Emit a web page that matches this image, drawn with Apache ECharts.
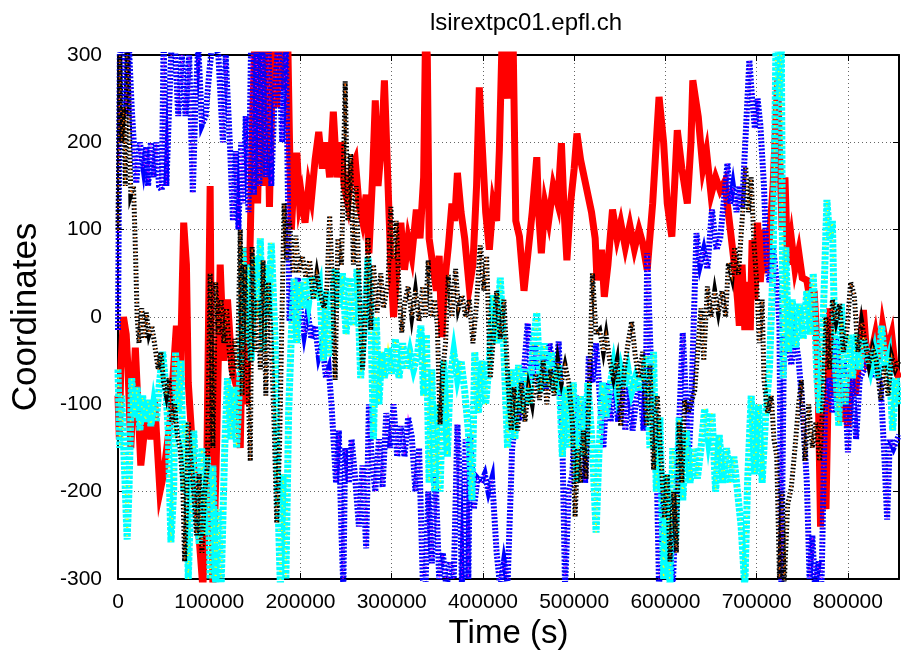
<!DOCTYPE html>
<html>
<head>
<meta charset="utf-8">
<title>lsirextpc01.epfl.ch</title>
<script src="https://cdn.jsdelivr.net/npm/echarts@6/dist/echarts.min.js"></script>
<style>
  html, body { margin: 0; padding: 0; background: #fff; }
  #chart { width: 901px; height: 657px; }
</style>
</head>
<body>
<div id="chart"></div>
<script>
// Coordinate traces over time; each pair is [time in kiloseconds, coordinate].
const redTrace = [[0,-90],[1.5,-140],[3,-60],[6,0],[9,-20],[11,-60],[14,-150],[19,-35],[25,-170],[29,-130],[33,-120],[36,-140],[40,-95],[46,-200],[50,-180],[57,-120],[64,-10],[68,-75],[72,108],[75,60],[77,-75],[81,-140],[85,-200],[88,-240],[93,-310],[97,-200],[101,150],[104,-310],[108,-150],[112,60],[116,-50],[120,20],[125,-60],[130,-80],[134,-150],[138,80],[141,-100],[144,40],[147,200],[150,320],[153,130],[157,320],[160,150],[163,320],[166,126],[170,320],[174,240],[178,330],[182,260],[186,320],[188,200],[190,100],[193,160],[196,188],[199,130],[201,140],[205,108],[209,150],[212,135],[216,180],[220,212],[224,170],[228,200],[232,160],[236,235],[240,160],[244,200],[248,150],[252,130],[256,170],[260,180],[264,130],[268,110],[272,140],[275,73],[279,160],[282,248],[285,150],[289,200],[292,271],[295,180],[299,60],[302,0],[306,60],[310,108],[314,54],[318,90],[322,70],[327,123],[331,90],[335,160],[337,320],[339,300],[341,90],[345,60],[349,30],[352,70],[355,-23],[358,40],[362,80],[366,130],[369,110],[372,165],[376,120],[380,90],[385,34],[389,60],[393,150],[396,263],[399,200],[403,120],[407,77],[411,130],[415,110],[418,191],[421,320],[425,250],[428,320],[431,250],[433,320],[436,110],[440,92],[445,30],[449,70],[454,120],[459,183],[461,120],[464,73],[468,130],[472,110],[477,150],[482,130],[486,199],[489,120],[492,65],[496,130],[500,170],[503,210],[507,180],[513,150],[519,120],[523,90],[525,42],[530,77],[533,23],[537,60],[542,123],[547,90],[551,108],[556,80],[561,105],[566,78],[571,100],[575,85],[580,54],[586,130],[590,200],[593,252],[598,200],[602,130],[607,92],[610,150],[613,214],[618,170],[624,130],[628,200],[630,271],[633,250],[636,229],[641,170],[645,190],[650,140],[655,160],[660,145],[665,155],[670,110],[675,65],[679,20],[681,-10],[684,60],[687,-15],[690,40],[693,-15],[695,88],[698,20],[701,108],[704,40],[708,100],[711,50],[714,90],[718,150],[720,200],[723,271],[725,190],[728,100],[731,160],[734,60],[738,90],[742,55],[746,75],[750,45],[755,42],[760,10],[763,30],[767,-50],[770,-240],[773,-100],[776,-220],[780,10],[784,-90],[788,-30],[792,-120],[796,-80],[800,-126],[804,-60],[808,-90],[813,-40],[817,8],[821,-50],[826,-40],[830,-20],[834,-50],[838,-10],[843,-40],[848,-20],[852,-60],[856,-70]];

const blueTrace = [[0,-15],[2,300],[5,320],[9,230],[12,310],[15,240],[20,153],[24,200],[28,170],[31,195],[33,150],[36,200],[39,160],[42,200],[45,150],[48,145],[50,320],[53,150],[56,240],[59,320],[62,320],[66,230],[70,300],[74,230],[78,300],[82,142],[85,250],[88,310],[92,220],[96,230],[100,280],[104,320],[110,300],[115,200],[118,300],[123,190],[126,110],[129,190],[132,100],[135,200],[137,130],[140,230],[143,120],[146,320],[149,140],[152,320],[155,150],[158,320],[162,160],[165,320],[168,150],[172,260],[176,320],[180,200],[184,320],[188,-5],[191,40],[194,0],[197,45],[200,10],[204,-20],[208,5],[212,-25],[216,-10],[220,-45],[224,-30],[228,-70],[231,-60],[234,-100],[239,-190],[242,-130],[245,-250],[247,-310],[249,-150],[253,-190],[256,-140],[260,-185],[264,-240],[268,-170],[272,-265],[275,-100],[278,-160],[282,-200],[286,-140],[290,-195],[294,-110],[298,-150],[302,-100],[306,-160],[310,-125],[314,-160],[318,-115],[322,-137],[326,-200],[330,-150],[334,-300],[337,-310],[340,-200],[344,-282],[348,-180],[352,-300],[356,-270],[360,-310],[364,-280],[368,-300],[372,-123],[374,-170],[377,-310],[381,-140],[384,-300],[386,-135],[390,-220],[394,-185],[398,-190],[402,-180],[406,-200],[410,-185],[415,-270],[419,-310],[423,-280],[427,-305],[432,-150],[436,-115],[440,-115],[445,-60],[449,-7],[453,-75],[457,-30],[461,-80],[465,-40],[469,-84],[473,-30],[477,-60],[481,-55],[483,-28],[487,-140],[490,-310],[494,-200],[498,-180],[502,-90],[506,-150],[510,-100],[512,-190],[516,-45],[520,-75],[524,-30],[528,-90],[532,-150],[536,-75],[540,-120],[544,-60],[548,-120],[552,-70],[556,-130],[560,-80],[564,-130],[568,-95],[572,-75],[576,-130],[579,-40],[580,73],[583,-20],[586,-100],[590,-150],[593,-310],[597,-200],[600,-300],[604,-250],[608,-310],[612,-200],[619,-18],[621,-60],[625,-170],[628,-110],[634,96],[638,60],[642,77],[646,55],[651,123],[656,77],[660,90],[668,176],[671,130],[674,150],[678,120],[681,150],[684,125],[692,294],[695,250],[698,216],[701,250],[704,220],[708,150],[711,63],[714,40],[718,80],[722,40],[725,-10],[727,-310],[730,-20],[734,-30],[738,-55],[742,-20],[746,-50],[750,-100],[755,-190],[758,-300],[761,-250],[764,-310],[768,-280],[771,-310],[775,-100],[779,-70],[783,-110],[787,-25],[791,-70],[796,-60],[800,-155],[805,-70],[809,-140],[813,-70],[818,-60],[824,-45],[829,-70],[833,-60],[836,-80],[840,-160],[843,-232],[846,-140],[850,-150],[856,-135]];

const blackTrace = [[0,100],[2,300],[4,200],[6,240],[8,150],[10,320],[12,250],[14,140],[17,150],[19,80],[21,0],[23,-30],[26,10],[29,-25],[31,5],[34,-20],[37,-10],[40,-30],[44,-60],[47,-40],[50,-75],[53,-90],[56,-70],[59,-120],[62,-100],[65,-135],[68,-150],[71,-190],[73,-280],[75,-220],[77,-120],[80,-165],[83,-200],[86,-250],[89,-180],[92,-270],[95,-200],[98,-170],[101,50],[104,-150],[107,40],[110,-20],[113,20],[116,-30],[119,10],[122,-40],[125,-70],[128,-25],[131,-60],[134,100],[136,-90],[139,60],[142,-60],[145,-165],[147,80],[150,-40],[153,20],[156,-60],[159,65],[162,-90],[165,40],[168,-30],[171,-120],[174,-236],[177,-150],[179,-40],[182,130],[185,65],[188,110],[192,50],[195,93],[198,50],[202,70],[206,45],[210,65],[214,20],[218,50],[222,25],[226,10],[229,35],[232,116],[235,40],[238,-72],[241,90],[245,60],[249,270],[252,110],[255,187],[258,60],[261,150],[264,47],[268,-60],[271,0],[274,91],[277,-15],[280,60],[284,5],[288,50],[291,10],[296,40],[299,126],[302,66],[305,110],[308,30],[311,-18],[314,15],[318,35],[322,0],[326,30],[330,-5],[334,35],[337,0],[340,65],[343,0],[347,20],[350,-10],[353,-123],[356,-60],[359,-30],[362,48],[366,0],[370,55],[373,10],[377,25],[381,0],[385,20],[389,-30],[393,15],[397,82],[401,30],[404,70],[408,-70],[411,-30],[415,30],[419,-25],[423,20],[427,-65],[431,-130],[434,-80],[438,-130],[442,-75],[446,-120],[450,-80],[454,-100],[458,-65],[462,-95],[466,-50],[470,-100],[474,-60],[478,-90],[482,-50],[486,-75],[490,-55],[494,-75],[498,-120],[501,-229],[504,-150],[507,-190],[510,-130],[513,-185],[517,-70],[520,50],[524,-20],[528,-15],[532,-40],[535,-20],[539,-50],[543,-70],[547,-50],[551,-125],[555,-60],[559,-30],[563,-5],[567,-45],[571,-70],[575,-40],[579,-125],[583,-55],[587,-175],[591,-90],[595,-160],[599,-230],[602,-180],[605,-280],[609,-200],[612,-270],[615,-120],[618,-190],[621,-95],[625,-110],[629,-95],[632,-85],[636,-30],[639,10],[642,-50],[646,35],[650,0],[654,30],[658,5],[662,30],[666,0],[669,62],[673,45],[676,80],[680,48],[684,110],[688,172],[691,120],[694,160],[697,85],[700,40],[703,-30],[706,20],[708,-72],[712,-110],[716,-90],[719,-140],[722,-160],[725,-300],[728,-200],[730,-310],[734,-215],[738,-195],[742,-150],[746,-100],[749,-72],[753,-165],[757,-100],[761,-150],[765,-120],[769,-165],[773,-90],[776,0],[780,-60],[783,20],[787,-5],[791,15],[795,-40],[799,-15],[803,40],[807,25],[811,-40],[815,-5],[819,-30],[823,-55],[827,-35],[831,-50],[836,-95],[840,-55],[844,-90],[848,-45],[852,-60],[856,-50]];

const cyanTrace = [[0,-60],[2,-150],[4,-90],[7,-170],[10,-255],[12,-200],[15,-70],[18,-115],[21,-80],[24,-130],[27,-90],[30,-120],[33,-95],[36,-125],[39,-100],[42,-120],[45,-80],[49,-40],[52,-75],[55,-130],[58,-258],[61,-200],[63,-40],[66,-110],[69,-50],[72,-200],[74,-120],[77,-300],[80,-200],[83,-130],[86,-200],[89,-260],[92,-150],[95,-250],[98,-160],[101,-300],[104,-170],[107,-310],[110,-220],[113,-310],[117,-150],[120,-70],[124,-140],[127,-80],[130,-150],[134,-60],[137,80],[140,-30],[143,60],[146,-50],[150,70],[153,0],[156,90],[159,-40],[162,60],[165,0],[168,85],[172,-20],[175,-200],[178,-310],[181,-180],[184,-300],[187,-110],[190,-20],[193,44],[196,-30],[199,40],[202,10],[205,44],[209,17],[213,47],[217,20],[221,35],[225,-50],[228,30],[231,-45],[234,0],[238,55],[242,10],[246,50],[250,-20],[254,45],[258,-10],[262,55],[266,-70],[270,-10],[274,68],[277,10],[280,-140],[283,0],[286,-100],[289,-40],[292,-70],[296,-35],[300,-65],[304,-25],[308,-70],[312,-30],[316,-60],[320,-40],[324,-60],[328,-45],[332,-10],[335,-90],[338,-20],[341,-190],[344,-60],[347,-200],[350,-100],[353,-200],[357,-50],[361,-160],[364,-70],[368,-40],[372,-70],[376,-50],[380,-85],[384,-130],[388,-210],[391,-40],[395,-110],[399,-50],[403,-100],[407,-50],[411,25],[415,-30],[419,45],[423,-40],[427,-150],[431,-60],[435,-140],[439,-55],[443,-110],[447,-60],[451,-100],[455,-30],[459,5],[463,-85],[467,-30],[471,-80],[475,-40],[479,-85],[483,-55],[487,-160],[491,-80],[495,-150],[499,-75],[503,-190],[507,-90],[511,-160],[515,-75],[520,-150],[524,-247],[527,-160],[531,-75],[535,-115],[539,-80],[543,-55],[547,-85],[551,-60],[555,-80],[559,-60],[563,-85],[567,-70],[571,-85],[575,-70],[579,-45],[583,-150],[587,-40],[590,-200],[594,-115],[598,-300],[601,-180],[605,-310],[608,-150],[611,-260],[615,-115],[619,-210],[623,-130],[627,-190],[631,-150],[635,-185],[639,-150],[643,-105],[647,-140],[651,-110],[655,-200],[659,-135],[663,-190],[667,-150],[671,-190],[675,-160],[679,-200],[683,-240],[687,-310],[690,-190],[694,-90],[698,-180],[702,-100],[706,-190],[710,-110],[714,-60],[718,60],[721,300],[723,320],[725,250],[727,320],[729,-70],[732,80],[735,-40],[739,20],[743,-35],[747,15],[751,-25],[755,30],[759,-20],[762,50],[766,-70],[769,-110],[773,0],[777,134],[780,90],[783,110],[786,-50],[790,-125],[793,15],[797,-100],[801,-20],[805,-70],[809,-20],[813,-60],[817,-25],[821,-40],[825,-60],[829,-40],[833,-70],[837,-10],[841,-60],[845,-45],[849,-130],[853,-70],[856,-100]];

const xTicks = [0, 100000, 200000, 300000, 400000, 500000, 600000, 700000, 800000];
const yTicks = [-300, -200, -100, 0, 100, 200, 300];

const toSeconds = trace => trace.map(p => [p[0] * 1000, p[1]]);

const FONT = '"Liberation Sans", Arial, Helvetica, sans-serif';
const xMax = 856000;

function line(name, trace, color, width, dash, z) {
  return {
    name: name,
    type: 'line',
    data: toSeconds(trace),
    symbol: 'none',
    silent: true,
    clip: true,
    z: z,
    lineStyle: { color: color, width: width, type: dash, join: 'miter', miterLimit: 8, cap: 'butt' }
  };
}

const chart = echarts.init(document.getElementById('chart'), null, { renderer: 'canvas' });

const axisLineStyle = { color: '#000', width: 2 };
const tickStyle = { show: true, inside: true, length: 6, lineStyle: { color: '#000', width: 1 } };

chart.setOption({
  animation: false,
  backgroundColor: '#fff',
  title: {
    text: 'lsirextpc01.epfl.ch',
    left: 521,
    top: 6,
    textAlign: 'center',
    textStyle: { fontFamily: FONT, fontSize: 24, fontWeight: 'normal', color: '#000' }
  },
  grid: { left: 118, right: 2, top: 55, bottom: 78, containLabel: false },
  xAxis: [{
    type: 'value',
    position: 'bottom',
    min: xTicks[0],
    max: xMax,
    interval: xTicks[1] - xTicks[0],
    name: 'Time (s)',
    nameLocation: 'middle',
    nameGap: 38,
    nameTextStyle: { fontFamily: FONT, fontSize: 33, color: '#000' },
    axisLine: { show: true, onZero: false, lineStyle: axisLineStyle },
    axisTick: tickStyle,
    axisLabel: {
      fontFamily: FONT, fontSize: 21, color: '#000', margin: 13,
      showMaxLabel: false,
      formatter: v => (xTicks.indexOf(v) >= 0 ? String(v) : '')
    },
    splitLine: { show: true, lineStyle: { color: '#666', width: 1, type: [1, 3] } }
  }, {
    type: 'value',
    position: 'top',
    min: xTicks[0],
    max: xMax,
    interval: xTicks[1] - xTicks[0],
    axisLine: { show: true, onZero: false, lineStyle: axisLineStyle },
    axisTick: tickStyle,
    axisLabel: { show: false },
    splitLine: { show: false }
  }],
  yAxis: [{
    type: 'value',
    position: 'left',
    min: yTicks[0],
    max: yTicks[yTicks.length - 1],
    interval: yTicks[1] - yTicks[0],
    name: 'Coordinates',
    nameLocation: 'middle',
    nameGap: 74,
    nameTextStyle: { fontFamily: FONT, fontSize: 35, color: '#000' },
    axisLine: { show: true, onZero: false, lineStyle: axisLineStyle },
    axisTick: tickStyle,
    axisLabel: { fontFamily: FONT, fontSize: 21, color: '#000', margin: 16 },
    splitLine: { show: true, lineStyle: { color: '#666', width: 1, type: [1, 3] } }
  }, {
    type: 'value',
    position: 'right',
    min: yTicks[0],
    max: yTicks[yTicks.length - 1],
    interval: yTicks[1] - yTicks[0],
    axisLine: { show: true, onZero: false, lineStyle: axisLineStyle },
    axisTick: tickStyle,
    axisLabel: { show: false },
    splitLine: { show: false }
  }],
  series: [
    line('red', redTrace, '#ff0000', 7, 'solid', 2),
    line('blue', blueTrace, '#0000ff', 6, [2, 1.6], 3),
    line('blue-dots', blueTrace, '#ff00ff', 1.2, [1, 6], 4),
    line('cyan', cyanTrace, '#00ffff', 7, [3.5, 1.3], 5),
    line('cyan-dots', cyanTrace, '#ffff00', 1.5, [1.2, 7], 6),
    line('black', blackTrace, '#000000', 5, [1.6, 2], 7),
    line('black-dots', blackTrace, '#ff6a00', 1.5, [1.2, 6], 8)
  ]
});
</script>
</body>
</html>
